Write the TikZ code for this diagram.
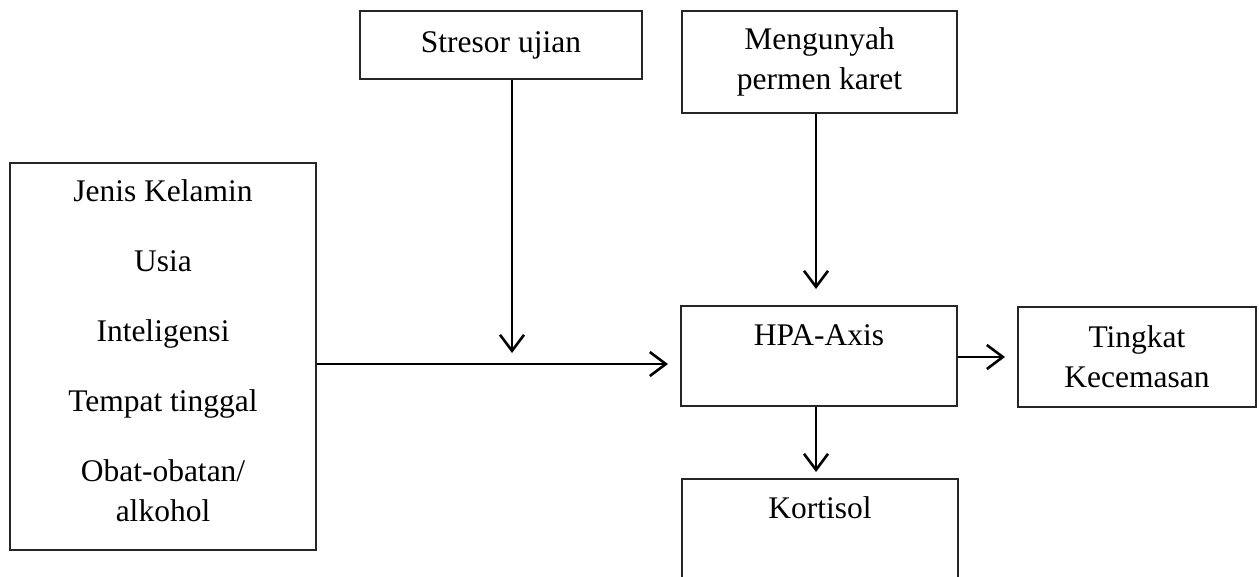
\documentclass[tikz,border=0pt]{standalone}
\usepackage{fontspec}
\setmainfont{Liberation Serif}
\usetikzlibrary{arrows.meta}
\begin{document}
\begin{tikzpicture}[x=1pt,y=-1pt,
  box/.style={draw=black!85, line width=1.1pt, inner sep=0pt},
  lbl/.style={font=\fontsize{31.5}{40}\selectfont, align=center, inner sep=0pt},
  arr/.style={line width=2.6pt, -{Straight Barb[length=16pt,width=24pt,line width=2.6pt]}}]
\useasboundingbox (0,0) rectangle (1259,576);
\clip (0,0) rectangle (1259,576);
\fill[white] (0,0) rectangle (1259,576);
% boxes
\node[box, minimum width=306pt, minimum height=387pt] (left) at (163,356.5) {};
\node[lbl] (lefttext) at (163,351) {Jenis Kelamin\\[30pt]Usia\\[30pt]Inteligensi\\[30pt]Tempat tinggal\\[30pt]Obat-obatan/\\alkohol};
\node[box, lbl, minimum width=282pt, minimum height=68pt] (stresor) at (501,45) {Stresor ujian};
\node[box, lbl, minimum width=275pt, minimum height=102pt] (mengunyah) at (819.5,62) {Mengunyah\\permen karet};
\node[box, minimum width=276pt, minimum height=100pt] (hpa) at (819,356) {};
\node[lbl] (hpatext) at (819,335) {HPA-Axis};
\node[box, lbl, minimum width=238pt, minimum height=100pt] (tingkat) at (1137,357) {Tingkat\\Kecemasan};
\node[box, minimum width=276pt, minimum height=100pt] (kortisol) at (820,529) {};
\node[lbl] (kortisoltext) at (820,508) {Kortisol};
% connector ends
\coordinate (hpa-in) at (668,364);
\coordinate (s-end) at (512,353);
\coordinate (m-end) at (816,289);
\coordinate (t-end) at (1005,357);
\coordinate (k-end) at (816,472);
% connectors
\draw[arr] (left.east |- hpa-in) -- (hpa-in);
\draw[arr] (s-end |- stresor.south) -- (s-end);
\draw[arr] (m-end |- mengunyah.south) -- (m-end);
\draw[arr] (hpa.east |- t-end) -- (t-end);
\draw[arr] (k-end |- hpa.south) -- (k-end);
\end{tikzpicture}
\end{document}
